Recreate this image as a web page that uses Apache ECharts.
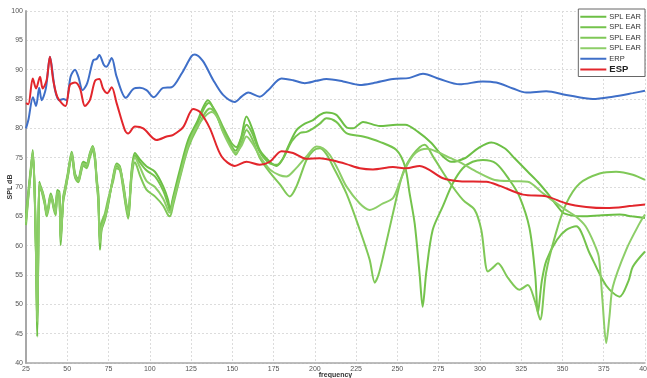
<!DOCTYPE html>
<html>
<head>
<meta charset="utf-8">
<script src="https://cdn.jsdelivr.net/npm/echarts@6/dist/echarts.min.js"></script>
<style>
  html, body { margin: 0; padding: 0; background: #fff; }
  #chart { width: 647px; height: 378px; }
</style>
</head>
<body>
<div id="chart"></div>
<script>
// Frequency axis ticks and level axis ticks
const freqTicks = [25, 50, 75, 100, 125, 150, 175, 200, 225, 250, 275, 300, 325, 350, 375, 400];
const dbTicks = [40, 45, 50, 55, 60, 65, 70, 75, 80, 85, 90, 95, 100];

// Series names
const earNames = ['SPL EAR 1', 'SPL EAR 2', 'SPL EAR 3', 'SPL EAR 4'];
const erpName = 'ERP';
const espName = 'ESP';

// [frequency, dB] pairs
const erp = [[25,80.0],[26.5,81.5],[29.2,85.3],[31.1,83.8],[33,86.9],[34.5,84.8],[37.1,86.9],[39.5,92.2],[42.6,86.5],[45.2,84.8],[47.6,85.0],[49.6,84.8],[52,88.8],[54.7,90.0],[56.7,88.8],[59.3,86.5],[62.1,87.7],[65.7,91.6],[67.8,91.8],[69.4,92.5],[72.2,90.8],[73.8,90.5],[76.9,92.0],[79.9,88.8],[85.5,85.2],[90,86.7],[94,86.9],[98,86.5],[102.4,85.3],[108.1,86.9],[113.2,87.0],[119.2,89.3],[125.3,92.3],[127.3,92.6],[132.1,91.5],[138.3,88.3],[144.4,85.7],[151.5,84.5],[155.6,85.4],[159.6,86.1],[166.6,85.4],[171.7,86.5],[179.8,88.5],[186.8,88.2],[193.9,87.7],[201,88.1],[207,88.4],[217.1,88.0],[227.2,87.4],[235.2,87.7],[247.3,88.4],[257.4,88.6],[265.5,89.3],[275.6,88.4],[287.7,87.5],[301.8,88.0],[309.9,87.8],[320,86.8],[328.1,86.1],[340.2,86.3],[352.3,85.7],[368.4,85.0],[380.5,85.4],[392.6,86.0],[400,86.4]];

const esp = [[25,84.3],[26.4,84.1],[29.1,88.5],[31.1,86.8],[33.5,88.8],[35.1,86.8],[37.5,88.2],[39.5,92.2],[41.5,88.2],[43.9,85.4],[46.6,84.3],[49,83.8],[51.6,87.4],[54.7,87.8],[57.7,86.8],[60.7,83.8],[63.7,84.8],[66.8,88.1],[69.4,88.4],[71.8,86.7],[74.2,86.0],[76.9,87.0],[79.9,84.3],[84.9,79.7],[86.9,79.1],[91,80.3],[96,80.0],[104.1,78.0],[110.2,78.6],[114.2,78.9],[120.2,80.2],[126.3,83.3],[130.3,82.8],[136.4,80.0],[143.5,75.2],[151.5,73.6],[158.6,74.3],[166.6,73.8],[172.7,74.3],[179.8,76.1],[186.8,75.8],[194.9,74.8],[203,74.9],[211,74.5],[219.1,73.9],[227.2,73.2],[235.2,73.0],[247.3,73.4],[255.4,73.2],[263.5,73.6],[277.6,71.5],[287.7,71.0],[303.9,70.9],[312,70.2],[326.1,68.7],[340.2,68.4],[352.3,67.2],[364.4,66.6],[376.5,66.4],[392.6,66.8],[400,67.0]];

const ear1 = [[25,64.5],[26.5,69],[28,73],[29.1,76.3],[30.4,68],[31.4,52],[31.8,44.5],[32.3,55],[33,70.9],[33.9,70.1],[35.1,69.2],[36.5,67.5],[37.5,65.2],[38.5,66.7],[40,68.9],[40.9,68.1],[42,66.7],[43,65.5],[43.9,69.5],[45.2,69.2],[46,60.1],[47.6,68.4],[48.6,69.8],[50.4,72.5],[52.7,76.0],[54.7,72.3],[56.7,71.3],[58.1,72.9],[59.7,74.3],[61.7,74.0],[63.7,75.8],[65.4,77.0],[66.8,75.2],[67.8,71.2],[68.8,68.4],[69.8,59.3],[70.8,62.7],[72.8,64.4],[74.8,67.0],[77.8,71.8],[79.9,74.0],[81.9,73.5],[83.9,70.1],[85.5,67.0],[86.9,65.0],[89,72.9],[91,75.8],[94,74.7],[98.1,73.5],[103.1,72.6],[108.1,70.1],[111.1,67.8],[112.2,66.1],[114.2,68.4],[118.2,72.9],[123.2,78.0],[128.3,80.9],[135.3,84.8],[140,82.5],[144.4,79.7],[149.5,77.0],[152,76.2],[155,78],[158.6,82.0],[162,80],[166.6,76.3],[172.7,74.3],[176.7,73.6],[180,74.5],[184,77],[188.9,79.7],[194,80.8],[198.9,81.4],[203,82.3],[207,82.7],[213,82.3],[219.1,80.2],[223.1,80.0],[229.2,81.1],[239.3,80.4],[249.4,80.6],[254.7,80.6],[262.5,79.4],[270.6,77.5],[276.6,75.5],[282.7,74.3],[290.8,74.9],[298.8,76.6],[306.9,77.6],[315,76.6],[321,74.9],[329,72.6],[335,70.9],[341,68.9],[347,66.7],[351,65.5],[362,65.0],[374,65.2],[384.6,65.3],[392,65.0],[400,64.7]];

const ear2 = [[25,65.5],[26.5,69.5],[28,73.5],[29.1,75.8],[30.4,67.5],[31.4,53],[31.8,46.5],[32.3,56],[33,70.2],[33.9,69.6],[35.1,68.8],[36.5,67.0],[37.5,65.6],[38.5,66.3],[40,68.4],[40.9,67.8],[42,66.2],[43,65.9],[43.9,69.0],[45.2,68.6],[46,61.5],[47.6,67.9],[48.6,69.3],[50.4,72.0],[52.7,75.6],[54.7,71.8],[56.7,71.0],[58.1,72.4],[59.7,73.9],[61.7,73.6],[63.7,75.4],[65.4,76.6],[66.8,74.8],[67.8,71.6],[68.8,69.0],[69.8,61.0],[70.8,63.3],[72.8,64.9],[74.8,67.5],[77.8,71.4],[79.9,73.6],[81.9,73.1],[83.9,70.6],[85.5,67.6],[86.9,65.8],[89,72.3],[91,75.4],[94,74.2],[98.1,72.8],[103.1,71.8],[108.1,69.4],[111.1,67.0],[112.2,66.0],[114.2,68.0],[118.2,72.2],[123.2,77.4],[128.3,80.5],[135.8,84.3],[140,82.8],[144.4,80.2],[149.5,77.5],[152.5,76.8],[155.5,78.5],[158.6,80.6],[162,79.2],[166.6,76.0],[172.7,74.0],[177,73.8],[181,75.0],[186,77.8],[191,79.2],[195,79.4],[199,80.0],[203,80.8],[207,81.7],[213,81.1],[219.1,79.2],[229.2,78.6],[239.3,77.7],[249.4,76.3],[254.6,73.5],[257.4,68.9],[260.5,63.7],[263.5,55],[265.3,49.6],[267.5,55.5],[271.4,62.7],[277.5,66.7],[283.5,70.6],[289.6,73.2],[295.6,74.3],[301.8,74.6],[309.8,74.0],[317.9,71.2],[323.9,68.4],[330,63],[333.5,55],[335.1,48.5],[337.5,54],[340.3,57.5],[346.7,61.0],[352.3,62.7],[358.3,63.3],[366.3,58.8],[374.3,54.2],[378.5,52.5],[384.6,51.3],[390,54],[392.6,56.4],[400,59.0]];

const ear3 = [[25,63.5],[26.5,68.5],[28,72.8],[29.1,75.5],[30.4,67],[31.4,54],[31.8,48.5],[32.3,57],[33,69.8],[33.9,69.9],[35.1,68.5],[36.5,66.8],[37.5,65.0],[38.5,66.0],[40,68.2],[40.9,67.5],[42,66.0],[43,65.2],[43.9,68.8],[45.2,68.4],[46,62.5],[47.6,67.6],[48.6,69.0],[50.4,71.8],[52.7,75.2],[54.7,71.6],[56.7,70.8],[58.1,72.2],[59.7,73.6],[61.7,73.2],[63.7,75.0],[65.4,76.2],[66.8,74.4],[67.8,70.8],[68.8,67.6],[69.8,62.7],[70.8,64.0],[72.8,65.5],[74.8,68.0],[77.8,71.0],[79.9,73.2],[81.9,72.8],[83.9,69.6],[85.5,66.6],[86.9,64.6],[89,71.6],[91,74.2],[94,72.0],[98.1,69.5],[103.1,68.4],[108.1,66.8],[111.1,65.2],[112.2,65.0],[114.2,67.0],[118.2,71.5],[123.2,76.6],[128.3,79.8],[136.5,83.4],[140,82.5],[144.4,79.5],[149.5,76.8],[152,75.5],[155.5,77.5],[158.6,79.7],[162,78.2],[166.6,75.0],[172.7,72.5],[178.7,70.5],[184.8,68.4],[189,70.2],[194.9,74.6],[199,76.2],[203,76.6],[207,75.6],[211,73.5],[219.1,68.9],[227.2,62.7],[233.2,57.6],[236.3,53.7],[238.5,55.0],[241.3,58.1],[247.3,65.5],[253.4,72.4],[259.4,75.5],[266.5,77.2],[272,75.0],[280.6,71.2],[289.7,67.8],[296.8,66.1],[300.8,62.7],[304.8,55.6],[308,56.3],[310.9,57.0],[317,54.5],[324,52.5],[329,53.3],[333,50.8],[336.5,47.4],[340,55.3],[346,62.1],[352.3,67.2],[360.4,70.6],[372.5,72.3],[382.5,72.6],[392.6,72.1],[400,71.2]];

const ear4 = [[25,64.0],[26.5,68.8],[28,73.2],[29.1,76.0],[30.4,67.8],[31.4,53.5],[31.8,47.0],[32.3,55.5],[33,70.5],[33.9,69.8],[35.1,69.0],[36.5,67.2],[37.5,65.4],[38.5,66.5],[40,68.6],[40.9,67.9],[42,66.4],[43,65.6],[43.9,69.2],[45.2,68.9],[46,61.0],[47.6,68.1],[48.6,69.5],[50.4,72.2],[52.7,75.8],[54.7,72.0],[56.7,71.1],[58.1,72.6],[59.7,74.0],[61.7,73.8],[63.7,75.6],[65.4,76.8],[66.8,75.0],[67.8,71.0],[68.8,68.0],[69.8,60.5],[70.8,63.0],[72.8,64.7],[74.8,67.3],[77.8,71.6],[79.9,73.8],[81.9,73.3],[83.9,70.3],[85.5,67.3],[86.9,65.4],[89,72.6],[91,75.0],[94,73.4],[98.1,71.0],[103.1,70.0],[108.1,68.0],[111.1,66.0],[112.2,65.6],[114.2,67.6],[118.2,71.8],[123.2,77.0],[128.3,80.2],[137.5,82.8],[141,81.8],[144.4,79.3],[149.5,76.5],[152,75.8],[155.5,77],[158.6,78.6],[162,77.5],[166.6,75.3],[172.7,73.0],[178.7,72.0],[182.8,71.8],[188,73],[194.9,75.2],[201,76.9],[205,76.6],[209,75.5],[214,73],[219.1,70.1],[227.2,67.2],[233.2,66.1],[241.3,67.2],[247.3,68.1],[251,70.5],[255.4,73.5],[261,75.8],[268,76.5],[274,76],[280,75.2],[288,74.2],[298.8,72.5],[309,71.2],[321,71.0],[329,70.9],[337,69.2],[345,67.5],[352,66.1],[358,65.0],[364,63.3],[369,60.5],[372,58.1],[374.2,50.8],[376.5,43.4],[378.5,48],[380.5,53.0],[388.6,59.3],[396.7,63.8],[400,65.3]];

const earData = [ear1, ear2, ear3, ear4];
const earColors = ['#6cbf45', '#74c34c', '#7fc857', '#8dce68'];

const font = 'Liberation Sans';
const chart = echarts.init(document.getElementById('chart'), null, { renderer: 'canvas' });

const series = earData.map((d, i) => ({
  name: earNames[i],
  type: 'line',
  data: d,
  smooth: 0.3,
  symbol: 'none',
  lineStyle: { color: earColors[i], width: 2 },
  itemStyle: { color: earColors[i] },
  z: 2
}));
series.push({
  name: erpName, type: 'line', data: erp, smooth: 0.3, symbol: 'none',
  lineStyle: { color: '#3f6fc8', width: 2 }, itemStyle: { color: '#3f6fc8' }, z: 3
});
series.push({
  name: espName, type: 'line', data: esp, smooth: 0.3, symbol: 'none',
  lineStyle: { color: '#e2262c', width: 2 }, itemStyle: { color: '#e2262c' }, z: 4
});

chart.setOption({
  animation: false,
  backgroundColor: '#ffffff',
  grid: { left: 26, right: 2, top: 11, bottom: 15, containLabel: false, outerBoundsMode: 'none' },
  legend: {
    orient: 'vertical',
    right: 2,
    top: 9,
    padding: [3, 4, 2, 2],
    itemGap: 1,
    itemWidth: 26,
    itemHeight: 2,
    icon: 'rect',
    backgroundColor: '#ffffff',
    borderColor: '#666',
    borderWidth: 1,
    textStyle: { fontFamily: font, fontSize: 7.5, color: '#333', lineHeight: 9.5, padding: [0, 0, 0, -2] },
    formatter: name => name.indexOf('SPL EAR') === 0 ? 'SPL EAR' : name,
    data: earNames.map(n => ({ name: n })).concat([
      { name: erpName },
      { name: espName, textStyle: { fontWeight: 'bold', fontSize: 9.5, lineHeight: 10, color: '#222' } }
    ])
  },
  xAxis: {
    type: 'value',
    min: freqTicks[0],
    max: freqTicks[freqTicks.length - 1],
    interval: 25,
    name: 'frequency',
    nameLocation: 'middle',
    nameGap: 9,
    nameMoveOverlap: false,
    nameTextStyle: { fontFamily: font, fontSize: 7, fontWeight: 'bold', color: '#333', verticalAlign: 'top' },
    axisLine: { show: true, lineStyle: { color: '#a8a8a8', width: 1.5 } },
    axisTick: { show: false },
    axisLabel: { fontFamily: font, fontSize: 7, color: '#555', margin: 3 },
    splitLine: { show: true, lineStyle: { color: '#dcdcdc', width: 1, type: [2, 2] } }
  },
  yAxis: {
    type: 'value',
    min: dbTicks[0],
    max: dbTicks[dbTicks.length - 1],
    interval: 5,
    name: 'SPL dB',
    nameLocation: 'middle',
    nameGap: 12,
    nameRotate: 90,
    nameMoveOverlap: false,
    nameTextStyle: { fontFamily: font, fontSize: 7, fontWeight: 'bold', color: '#333' },
    axisLine: { show: true, lineStyle: { color: '#a8a8a8', width: 2 } },
    axisTick: { show: false },
    axisLabel: { fontFamily: font, fontSize: 7, color: '#555', margin: 3 },
    splitLine: { show: true, lineStyle: { color: '#dcdcdc', width: 1, type: [2, 2] } }
  },
  series: series
});
</script>
</body>
</html>
